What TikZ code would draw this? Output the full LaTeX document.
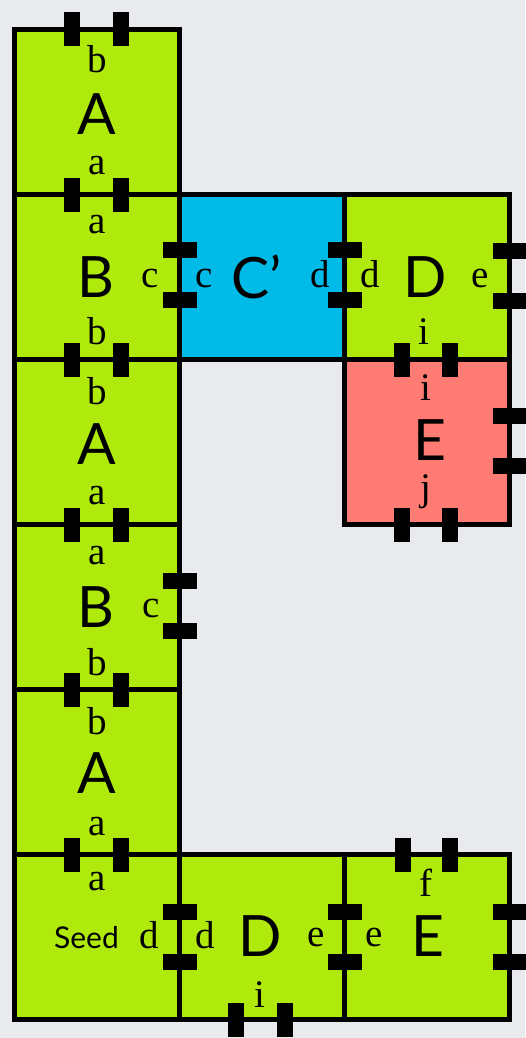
\documentclass[tikz,border=0pt]{standalone}
\usepackage{fontspec}
\setmainfont{Liberation Serif}
\newfontfamily\bigfont{Lato}
\definecolor{tgreen}{RGB}{176,234,12}
\definecolor{tblue}{RGB}{0,187,232}
\definecolor{tred}{RGB}{255,123,115}
\definecolor{bgcol}{RGB}{233,234,238}
\begin{document}
\begin{tikzpicture}[x=1pt,y=-1pt,
  tile/.style={draw=black,line width=4.5pt,minimum size=165pt,inner sep=0pt,outer sep=0pt},
  vport/.style={fill=black,draw=none,minimum width=16pt,minimum height=34pt,inner sep=0pt,outer sep=0pt},
  hport/.style={fill=black,draw=none,minimum width=34pt,minimum height=16pt,inner sep=0pt,outer sep=0pt},
  big/.style={inner sep=0pt,font=\bigfont\fontsize{57}{57}\selectfont},
  seedlab/.style={inner sep=0pt,font=\bigfont\fontsize{30}{30}\selectfont},
  lab/.style={inner sep=0pt,font=\fontsize{39}{39}\selectfont},
  slab/.style={inner sep=0pt,anchor=base,font=\fontsize{39}{39}\selectfont}]
\fill[bgcol] (0,0) rectangle (525,1038);
\useasboundingbox (0,0) rectangle (525,1038);
% tiles
\node[tile,fill=tgreen] (t1) at (97,112) {};
\node[tile,fill=tgreen] (t2) at (97,277) {};
\node[tile,fill=tblue] (t3) at (262,277) {};
\node[tile,fill=tgreen] (t4) at (427,277) {};
\node[tile,fill=tgreen] (t5) at (97,442) {};
\node[tile,fill=tred] (t6) at (427,442) {};
\node[tile,fill=tgreen] (t7) at (97,607) {};
\node[tile,fill=tgreen] (t8) at (97,772) {};
\node[tile,fill=tgreen] (t9) at (97,937) {};
\node[tile,fill=tgreen] (t10) at (262,937) {};
\node[tile,fill=tgreen] (t11) at (427,937) {};
% vertical ports (top/bottom edges)
\foreach \px/\py [count=\i] in {72/29.5,121/29.5,72/194.5,121/194.5,72/359.5,121/359.5,
  401.5/359.5,450/359.5,72/524.5,121/524.5,401.5/524.5,450/524.5,72/689.5,121/689.5,
  72/854.5,121/854.5,402.5/854.5,450/854.5,235.5/1019.5,284.5/1019.5}
  \node[vport] (v\i) at (\px,\py) {};
% horizontal ports (side edges)
\foreach \px/\py [count=\i] in {179.5/250,179.5/300,179.5/581,179.5/631,179.5/912,179.5/962,
  344.5/250,344.5/300,344.5/912,344.5/962,509.5/251,509.5/301,509.5/416,509.5/466,
  509.5/912,509.5/962}
  \node[hport] (h\i) at (\px,\py) {};
% big letters
\node[big] (n1) at (97,114) {A};
\node[big] (n2) at (96,277) {B};
\node[big] (n3) at (257,277) {C’};
\node[big] (n4) at (425.5,277) {D};
\node[big] (n5) at (97,444) {A};
\node[big] (n6) at (429.5,440) {E};
\node[big] (n7) at (96,607) {B};
\node[big] (n8) at (97,773) {A};
\node[seedlab] (n9) at (86.5,938) {Seed};
\node[big] (n10) at (260,936) {D};
\node[big] (n11) at (427.5,936) {E};
% top / bottom labels
\node[lab] (l1) at (97,59) {b};
\node[lab] (l2) at (97,166) {a};
\node[lab] (l3) at (97,225) {a};
\node[lab] (l4) at (97,331) {b};
\node[lab] (l5) at (424,332) {i};
\node[lab] (l6) at (97,391) {b};
\node[lab] (l7) at (97,496) {a};
\node[lab] (l8) at (426,388) {i};
\node[lab] (l9) at (426,492) {j};
\node[lab] (l10) at (97,556) {a};
\node[lab] (l11) at (97,662) {b};
\node[lab] (l12) at (97,721) {b};
\node[lab] (l13) at (97,827) {a};
\node[lab] (l14) at (97,882) {a};
\node[lab] (l15) at (260,995) {i};
\node[lab] (l16) at (426,883) {f};
% side labels
\node[slab] (s1) at (150.5,287) {c};
\node[slab] (s2) at (204,287) {c};
\node[slab] (s3) at (320,287) {d};
\node[slab] (s4) at (370,287) {d};
\node[slab] (s5) at (480,287) {e};
\node[slab] (s6) at (151,617) {c};
\node[slab] (s7) at (149,948) {d};
\node[slab] (s8) at (205,948) {d};
\node[slab] (s9) at (316,946) {e};
\node[slab] (s10) at (374,946) {e};
\end{tikzpicture}
\end{document}
